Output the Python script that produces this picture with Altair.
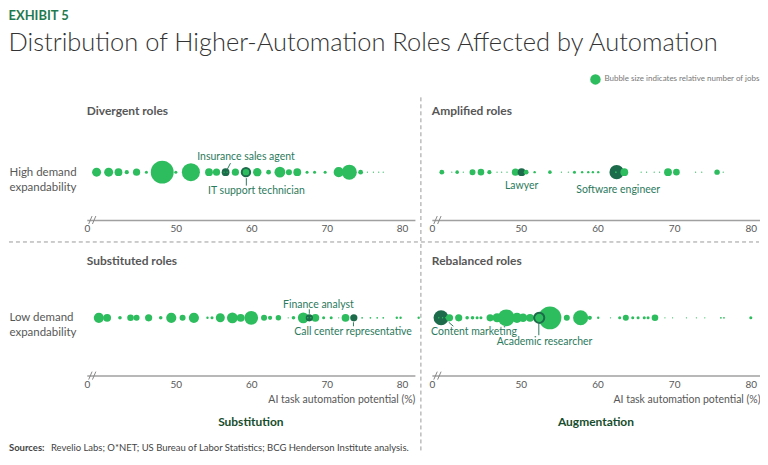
import altair as alt
import pandas as pd

GREEN = "#2dbd5e"
DARK = "#1c6b4a"
ANNO = "#2c7a5d"
TXT = "#575757"
AXIS = "#a0a0a0"
FONT = "Lato"

# ---- data: AI task automation potential (%) and relative number of jobs ----
# Divergent roles (high demand expandability, substitution)
div_x = [39.5, 41.1, 42.4, 43.5, 44.8, 46.1, 48.2, 50.0, 52.0, 54.4, 55.4, 56.6, 56.4, 56.8,
         57.9, 59.3, 60.8, 62.3, 63.8, 65.0, 66.1, 67.4, 68.4, 69.8, 71.6, 73.0, 74.5,
         75.4, 76.2, 76.9, 77.5]
div_jobs = [15.7, 15.7, 11.8, 3.4, 10, 1.8, 101, 1.8, 63, 11.8, 10, 11.8, 0.3, 0.3,
            10, 13.7, 13.7, 4.5, 22.6, 7, 11.8, 1.8, 1.8, 1.8, 20, 43.6, 4.5,
            0.3, 0.3, 0.3, 0.3]
div_dark = [56.6]
div_ring = [59.3]

# Amplified roles (high demand expandability, augmentation)
amp_x = [39.7, 41.0, 41.7, 42.5, 43.7, 44.8, 45.9, 46.9, 47.5, 48.2, 49.3, 50.1, 50.7,
         51.8, 53.8, 55.3, 56.2, 57.0, 58.0, 58.8, 59.4, 60.1, 62.5, 62.4, 63.5, 65.7,
         66.4, 67.4, 68.1, 69.2, 70.3, 72.8, 73.6, 75.6, 76.4]
amp_jobs = [4.5, 0.3, 2.5, 0.3, 7, 8.4, 3.4, 0.3, 0.3, 0.3, 10, 11.8, 4.5,
            1.1, 2.5, 0.3, 0.3, 1.8, 1.1, 1.1, 1.1, 1.1, 40, 0.6, 11.8, 0.3,
            0.3, 0.3, 0.3, 11.8, 8.4, 0.3, 0.3, 5.7, 0.3]
amp_dark = [50.1, 62.5]
amp_ring = []

# Substituted roles (low demand expandability, substitution)
sub_x = [39.8, 40.9, 42.6, 44.0, 44.8, 46.4, 48.0, 49.4, 50.9, 52.4, 54.2, 54.8, 55.9,
         57.5, 58.6, 60.0, 61.7, 62.5, 63.6, 64.9, 65.6, 66.9, 68.5, 67.7, 67.5, 67.9,
         69.6, 70.6, 71.6, 72.5, 73.6, 74.7, 75.8, 76.7, 77.5, 79.3, 79.8, 82.2]
sub_jobs = [20, 11.8, 2.5, 8.4, 7, 10, 2.5, 20, 7, 20, 1.1, 1.8, 15.7,
            22.6, 11.8, 37, 7, 3.4, 5.7, 0.3, 2.5, 22.6, 11.8, 10, 0.4, 0.4,
            1.8, 1.8, 0.3, 11.8, 10, 0.6, 0.6, 0.6, 0.6, 1.1, 1.1, 1.1]
sub_dark = [67.7, 73.6]
sub_ring = []

# Rebalanced roles (low demand expandability, augmentation)
reb_x = [39.6, 39.3, 39.8, 40.2, 40.7, 41.9, 43.0, 43.7, 44.3, 44.8, 46.0, 46.9, 48.1,
         49.5, 50.3, 51.2, 53.8, 52.4, 56.0, 57.8, 59.0, 60.1, 61.7, 62.9, 63.7, 64.6,
         65.3, 66.1, 66.6, 67.5, 68.8, 69.8, 71.6, 72.9, 74.0, 76.1, 76.5, 80.0]
reb_jobs = [43.6, 0.4, 0.4, 0.4, 10, 10, 2.5, 2.5, 1.8, 1.8, 10, 15.7, 54.7,
            20, 13.7, 11.8, 101, 20, 7, 43.6, 3.4, 1.1, 0.3, 1.8, 7, 1.8,
            1.8, 1.8, 1.8, 8.4, 0.3, 0.3, 0.3, 0.3, 0.3, 0.6, 0.6, 1.8]
reb_dark = [39.6]
reb_ring = [52.4]

ROW_HIGH = "High demand expandability"
ROW_LOW = "Low demand expandability"
TICKS = [50, 60, 70, 80]
AXIS_TITLE = "AI task automation potential (%)"


def frame(xs, jobs, dark, ring, row):
    kinds = ["d" if x in dark else ("r" if x in ring else "n") for x in xs]
    return pd.DataFrame({"potential": xs, "jobs": jobs, "kind": kinds, "row": row})


def note(text, x, y, size, color, weight="normal", align="left"):
    return alt.Chart(pd.DataFrame({"t": [text]})).mark_text(
        font=FONT, fontSize=size, color=color, fontWeight=weight, align=align, baseline="middle"
    ).encode(x=alt.value(x), y=alt.value(y), text="t:N")


def panel(df, row, title, title_y, domain, width, height, align, row_axis, x_title,
          labels, leaders, extras):
    x = alt.X(
        "potential:Q",
        scale=alt.Scale(domain=domain, nice=False, zero=False),
        axis=alt.Axis(
            values=[domain[0]] + TICKS,
            labelExpr="datum.value < 45 ? '0' : datum.label",
            ticks=False, grid=False, domainColor=AXIS, domainWidth=1.5,
            labelColor=TXT, labelFontSize=10, labelFont=FONT, labelPadding=4,
            labelFlush=False, labelOverlap=False,
            title=x_title, titleAnchor="end", titleFontSize=10.5,
            titleFontWeight="normal", titleColor=TXT, titleFont=FONT, titlePadding=5,
        ),
    )
    if row_axis:
        yax = alt.Axis(
            title=None, domain=False, ticks=False, tickSize=0,
            labelAlign="left", labelPadding=78, labelFontSize=11.5, labelFont=FONT,
            labelColor=TXT, labelLineHeight=15, labelBaseline="middle",
            labelExpr="split(replace(datum.label, 'demand ', 'demand|'), '|')",
        )
    else:
        yax = None
    y = alt.Y("row:N", scale=alt.Scale(type="point", align=align, padding=0.5), axis=yax)

    layers = [note(title, 0, title_y, 12, TXT, "bold")]
    # axis break: two short slanted strokes across the start of the axis line
    b0 = domain[0]
    for off in (0.25, 0.75):
        layers.append(
            alt.Chart(pd.DataFrame({"potential": [b0 + off], "potential2": [b0 + off + 0.45]}))
            .mark_rule(color="#888888", strokeWidth=1)
            .encode(x="potential:Q", x2="potential2:Q",
                    y=alt.value(height + 4), y2=alt.value(height - 4))
        )

    bubbles = alt.Chart(df).mark_circle(opacity=1).encode(
        x=x, y=y,
        size=alt.Size("jobs:Q", scale=alt.Scale(domain=[0, 100], range=[0, 520]), legend=None),
        color=alt.condition("datum.kind == 'd'", alt.value(DARK), alt.value(GREEN)),
        stroke=alt.value(DARK),
        strokeWidth=alt.condition("datum.kind == 'r'", alt.value(2), alt.value(0)),
    )
    layers.append(bubbles)

    for (x1, x2, y1, y2) in leaders:
        layers.append(
            alt.Chart(pd.DataFrame({"potential": [x1], "potential2": [x2]})).mark_rule(
                color=ANNO, strokeWidth=1
            ).encode(x="potential:Q", x2="potential2:Q", y=alt.value(y1), y2=alt.value(y2))
        )
    for (text, xv, dy, al) in labels:
        layers.append(
            alt.Chart(pd.DataFrame({"potential": [xv], "row": [row], "label": [text]})).mark_text(
                dy=dy, align=al, baseline="middle", font=FONT, fontSize=10.5, color=ANNO
            ).encode(x="potential:Q", y=alt.Y("row:N"), text="label:N")
        )
    layers.extend(extras)
    return alt.layer(*layers).properties(width=width, height=height)


LW, RW = 329, 329
TH, BH = 96, 105
LDOM = [38.2, 81.7]
RDOM = [38.4, 81.2]

dash = alt.Chart(pd.DataFrame({"a": [0]}))
hline = dash.mark_rule(color="#9a9a9a", strokeDash=[4, 3], strokeWidth=1).encode(
    x=alt.value(-78), x2=alt.value(674), y=alt.value(118))
vline = dash.mark_rule(color="#9a9a9a", strokeDash=[4, 3], strokeWidth=1).encode(
    x=alt.value(335), y=alt.value(-27), y2=alt.value(330))

legend_dot = alt.Chart(pd.DataFrame({"a": [0]})).mark_circle(opacity=1, color=GREEN, size=110).encode(
    x=alt.value(164), y=alt.value(-45))
legend_txt = note("Bubble size indicates relative number of jobs", 173, -45, 8, "#777777")

TL = panel(frame(div_x, div_jobs, div_dark, div_ring, ROW_HIGH), ROW_HIGH, "Divergent roles", -13,
           LDOM, LW, TH, 0.5, True, None,
           [("Insurance sales agent", 59.3, -15, "center"), ("IT support technician", 60.7, 19, "center")],
           [(57.25, 56.8, 39, 45.5), (59.35, 59.35, 54, 61.5)],
           [hline, vline])
TR = panel(frame(amp_x, amp_jobs, amp_dark, amp_ring, ROW_HIGH), ROW_HIGH, "Amplified roles", -13,
           RDOM, RW, TH, 0.5, False, None,
           [("Lawyer", 50.1, 14, "center"), ("Software engineer", 62.7, 18, "center")],
           [], [legend_dot, legend_txt])
BL = panel(frame(sub_x, sub_jobs, sub_dark, sub_ring, ROW_LOW), ROW_LOW, "Substituted roles", -10,
           LDOM, LW, BH, 0.448, True, AXIS_TITLE,
           [("Finance analyst", 68.9, -13, "center"), ("Call center representative", 73.5, 14, "center")],
           [(67.7, 67.7, 38.5, 43), (73.55, 73.55, 51.5, 55.5)],
           [note("Substitution", LW / 2, 152, 12, "#174d2c", "bold", "center"),
            note("Sources:", -78, 178, 9.5, "#444444", "bold"),
            note("Revelio Labs; O*NET; US Bureau of Labor Statistics; BCG Henderson Institute analysis.",
                 -36, 178, 9.5, "#444444")])
BR = panel(frame(reb_x, reb_jobs, reb_dark, reb_ring, ROW_LOW), ROW_LOW, "Rebalanced roles", -10,
           RDOM, RW, BH, 0.448, False, AXIS_TITLE,
           [("Content marketing", 38.3, 14, "left"), ("Academic researcher", 53.1, 24, "center")],
           [(40.6, 41.2, 51.5, 55.5), (52.35, 52.35, 51.5, 64.5)],
           [note("Augmentation", RW / 2, 152, 12, "#174d2c", "bold", "center")])

chart = alt.concat(
    TL, TR, BL, BR, columns=2, bounds="flush", spacing={"row": 51, "column": 17}
).properties(
    padding={"top": 1, "left": 0, "right": 0, "bottom": 0},
    title=alt.TitleParams(
        text="EXHIBIT 5",
        subtitle="Distribution of Higher-Automation Roles Affected by Automation",
        anchor="start", font=FONT, fontSize=13, fontWeight="bold", color="#1f7a4f",
        subtitleFont=FONT, subtitleFontSize=25.5, subtitleFontWeight=300,
        subtitleColor="#333333", subtitlePadding=8, offset=18,
    ),
).configure(font=FONT).configure_view(stroke="transparent", strokeWidth=0)

chart.save("out.html", embed_options={"renderer": "svg", "actions": False})
